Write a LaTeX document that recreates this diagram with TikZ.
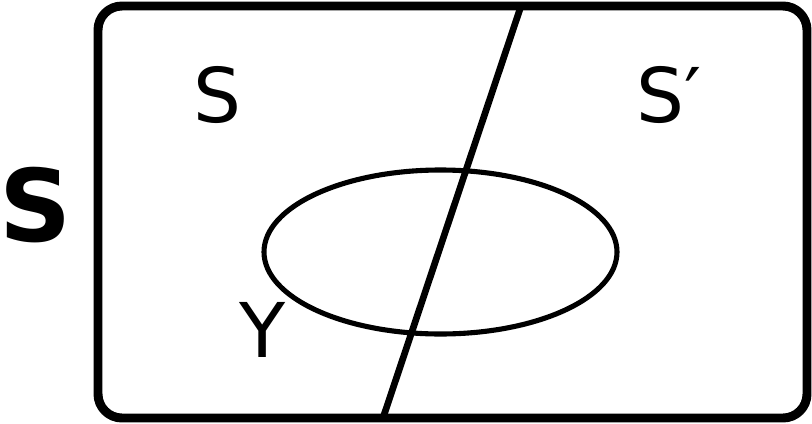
\documentclass[tikz,border=0pt]{standalone}
\usepackage{fontspec}
\setmainfont{DejaVu Sans}
\usepackage{tikz}
\usetikzlibrary{positioning}

\begin{document}
\begin{tikzpicture}[
  x=0.02cm, y=-0.02cm,
  frame/.style={draw=black, line width=5.1pt, rounded corners=0.48cm},
  cut/.style={draw=black, line width=3.8pt},
  region/.style={draw=black, line width=2.9pt},
  lbl/.style={inner sep=0pt, font=\fontsize{43}{50}\selectfont},
  big/.style={inner sep=0pt, font=\fontsize{57}{66}\selectfont\bfseries}
]
\useasboundingbox (0,0) rectangle (812,423);
\draw[frame] (98,6) rectangle (807,418);
\draw[region] (440.5,252) ellipse [x radius=176.5, y radius=82];
\coordinate (ctop) at (521,6);
\coordinate (cbot) at (383,418);
\draw[cut] (ctop) -- (cbot);

\node[big] (universe) at (36,205) {S};
\node[lbl] (left) at (217.5,95) {S};
\node[lbl] (right) at (669,95) {S′};
\node[lbl] (subset) at (263,330) {Y};
\end{tikzpicture}
\end{document}
